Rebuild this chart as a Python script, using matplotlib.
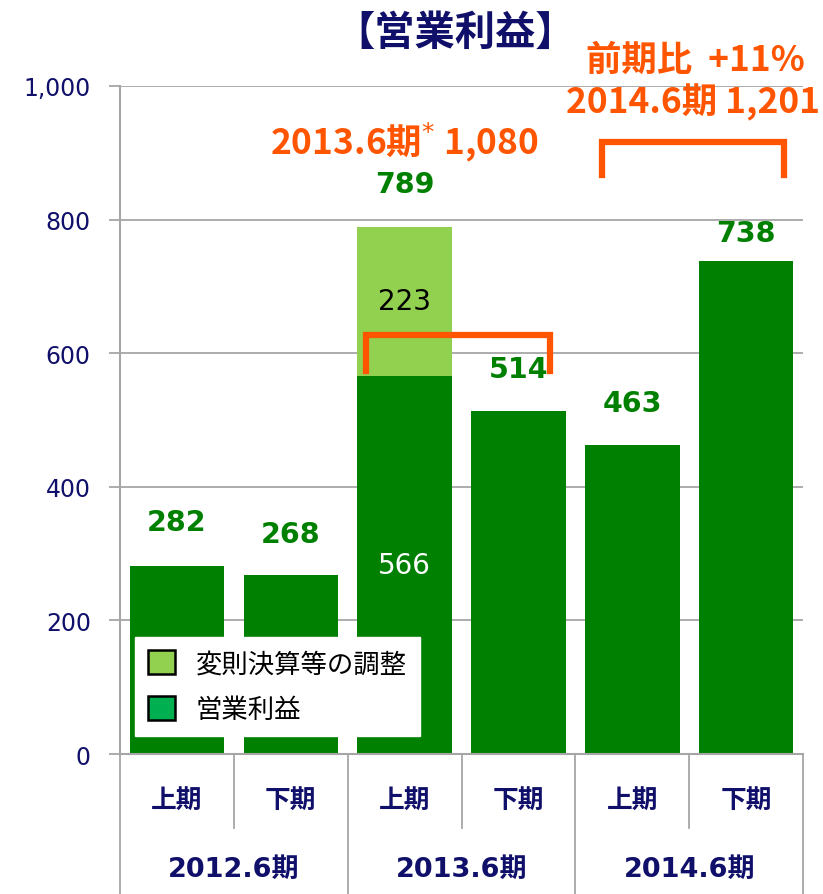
import matplotlib.pyplot as plt
from matplotlib.patches import Patch
import matplotlib.transforms as mtransforms

plt.rcParams['font.family'] = ['Noto Sans CJK JP', 'DejaVu Sans']

# Data
halves = ["上期", "下期", "上期", "下期", "上期", "下期"]
years = ["2012.6期", "2013.6期", "2014.6期"]
operating_profit = [282, 268, 566, 514, 463, 738]
adjustment = [0, 0, 223, 0, 0, 0]
totals = [282, 268, 789, 514, 463, 738]
yticks = [0, 200, 400, 600, 800, 1000]

# label offsets above each bar (style only)
label_offsets = [65, 61, 64, 62, 62, 42]

navy = "#10106A"
dark_green = "#008000"
light_green = "#92D050"
legend_green = "#00B050"
orange = "#FF5500"
grid_gray = "#A6A6A6"

fig = plt.figure(figsize=(8.23, 8.95), dpi=100)
ax = fig.add_axes([0.1458, 0.1564, 0.830, 0.7464])

x = list(range(len(halves)))
ax.bar(x, operating_profit, width=0.83, color=dark_green, zorder=3)
ax.bar(x, adjustment, width=0.83, bottom=operating_profit, color=light_green, zorder=3)

ax.set_xlim(-0.5, 5.5)
ax.set_ylim(0, 1000)
ax.set_yticks(yticks)
ax.set_yticklabels([f"{v:,}" for v in yticks], family='DejaVu Sans', fontsize=17, color=navy)
ax.set_xticks([])
ax.tick_params(axis='y', length=8, width=1.3, color=grid_gray, pad=13)
ax.yaxis.grid(True, color=grid_gray, lw=1.3, zorder=0)
for s in ['top', 'right']:
    ax.spines[s].set_visible(False)
for s in ['left', 'bottom']:
    ax.spines[s].set_color(grid_gray)
    ax.spines[s].set_linewidth(1.5)
ax.spines['bottom'].set_zorder(4)

# Value labels
for i, t in enumerate(totals):
    ax.text(i, t + label_offsets[i], f"{t}", ha='center', va='center', fontsize=20.5,
            fontweight='bold', color=dark_green, family='DejaVu Sans')
ax.text(2, operating_profit[2] + adjustment[2] / 2, f"{adjustment[2]}", ha='center', va='center',
        fontsize=20, color='black', family='DejaVu Sans', zorder=5)
ax.text(2, operating_profit[2] / 2, f"{operating_profit[2]}", ha='center', va='center',
        fontsize=20, color='white', family='DejaVu Sans', zorder=5)

# Brackets
ax.plot([1.66, 1.66, 3.28, 3.28], [573, 627, 627, 573], color=orange, lw=4.5,
        solid_joinstyle='miter', zorder=6)
ax.plot([3.73, 3.73, 5.33, 5.33], [867, 916, 916, 867], color=orange, lw=4.5,
        solid_joinstyle='miter', zorder=6, clip_on=False)

ax.text(2.0, 917, "2013.6期$^{*}$ 1,080", ha='center', va='center', fontsize=25.5,
        fontweight='bold', color=orange)
ax.text(4.53, 977, "2014.6期 1,201", ha='center', va='center', fontsize=25.5,
        fontweight='bold', color=orange, clip_on=False)
ax.text(4.55, 1040, "前期比  +11%", ha='center', va='center', fontsize=25.5,
        fontweight='bold', color=orange, clip_on=False)

# Title
fig.text(0.553, 0.963, "【営業利益】", ha='center', va='center', fontsize=29,
         fontweight='bold', color=navy)

# Category axis drawn below the plot
trans = mtransforms.blended_transform_factory(ax.transData, ax.transAxes)
for k in range(7):
    xb = k - 0.5
    y_end = -0.215 if k % 2 == 0 else -0.11
    ax.plot([xb, xb], [0, y_end], color=grid_gray, lw=1.3, transform=trans, clip_on=False)
for i, h in enumerate(halves):
    ax.text(i, -0.068, h, ha='center', va='center', fontsize=18.5, fontweight='bold',
            color=navy, transform=trans)
for j, y in enumerate(years):
    ax.text(2 * j + 0.5, -0.172, y, ha='center', va='center', fontsize=19.5, fontweight='bold',
            color=navy, transform=trans, family=['DejaVu Sans', 'Noto Sans CJK JP'])

# Legend
handles = [Patch(facecolor=light_green, edgecolor='black', lw=1.8, label="変則決算等の調整"),
           Patch(facecolor=legend_green, edgecolor='black', lw=1.8, label="営業利益")]
leg = ax.legend(handles=handles, loc='lower left', bbox_to_anchor=(0.022, 0.027),
                fontsize=19, frameon=True, fancybox=False, framealpha=1, edgecolor='white',
                handlelength=1.0, handleheight=1.0, handletextpad=0.8, labelspacing=0.7,
                borderpad=0.5, borderaxespad=0)
leg.set_zorder(7)

plt.savefig("out.png", dpi=100)
